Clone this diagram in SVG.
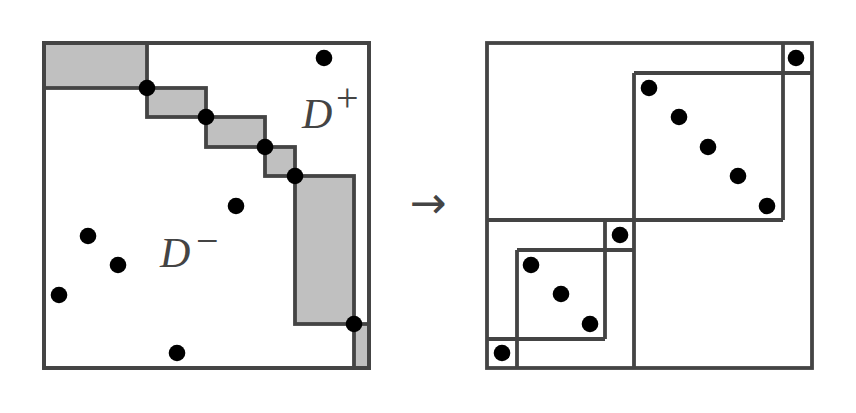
<svg xmlns="http://www.w3.org/2000/svg" width="856" height="413" viewBox="0 0 856 413">
<style>
.frame{fill:#fff;stroke:#444;stroke-width:3.8}
.shade{fill:#c0c0c0;stroke:#444;stroke-width:3.8;stroke-linejoin:miter}
.ln{fill:none;stroke:#444;stroke-width:3.8}
.dot{fill:#000}
.lbl{font-family:"Liberation Serif",serif;font-style:italic;font-size:42px;fill:#444}
.sup{font-family:"Liberation Serif",serif;font-size:40px;fill:#444}
</style>
<rect width="856" height="413" fill="#fff"/>
<g id="left">
<rect class="frame" x="44" y="43" width="325" height="325"/>
<g id="staircase">
<rect class="shade" x="44" y="43" width="103" height="45"/>
<rect class="shade" x="147" y="88" width="59" height="29"/>
<rect class="shade" x="206" y="117" width="59" height="30"/>
<rect class="shade" x="265" y="147" width="30" height="29"/>
<rect class="shade" x="295" y="176" width="59" height="148"/>
<rect class="shade" x="354" y="324" width="15" height="44"/>
</g>
<rect class="ln" x="44" y="43" width="325" height="325"/>
<g id="left-points">
<circle class="dot" cx="147" cy="88" r="8.3"/>
<circle class="dot" cx="206" cy="117" r="8.3"/>
<circle class="dot" cx="265" cy="147" r="8.3"/>
<circle class="dot" cx="295" cy="176" r="8.3"/>
<circle class="dot" cx="354" cy="324" r="8.3"/>
<circle class="dot" cx="324" cy="58" r="8.3"/>
<circle class="dot" cx="236" cy="206" r="8.3"/>
<circle class="dot" cx="88" cy="236" r="8.3"/>
<circle class="dot" cx="118" cy="265" r="8.3"/>
<circle class="dot" cx="59" cy="295" r="8.3"/>
<circle class="dot" cx="177" cy="353" r="8.3"/>
</g>
<g id="label-dplus"><text class="lbl" x="302" y="128">D</text><text class="sup" x="336" y="111">+</text></g>
<g id="label-dminus"><text class="lbl" x="160" y="267">D</text><text class="sup" x="196" y="254">−</text></g>
</g>
<g id="arrow"><text x="428" y="218" text-anchor="middle" style="font-family:'DejaVu Sans',sans-serif;font-size:44px;fill:#444">→</text></g>
<g id="right">
<rect class="frame" x="487" y="43" width="325" height="325"/>
<g id="connectors">
<path class="ln" d="M783 43V220M634 73H812M487 220H783M634 73V368"/>
<path class="ln" d="M605 220V339M517 250H634M487 339H605M517 250V368"/>
</g>
<g id="right-points">
<circle class="dot" cx="796" cy="58" r="8.3"/>
<circle class="dot" cx="649" cy="88" r="8.3"/>
<circle class="dot" cx="679" cy="117" r="8.3"/>
<circle class="dot" cx="708" cy="147" r="8.3"/>
<circle class="dot" cx="738" cy="176" r="8.3"/>
<circle class="dot" cx="767" cy="206" r="8.3"/>
<circle class="dot" cx="620" cy="235" r="8.3"/>
<circle class="dot" cx="531" cy="265" r="8.3"/>
<circle class="dot" cx="561" cy="294" r="8.3"/>
<circle class="dot" cx="590" cy="324" r="8.3"/>
<circle class="dot" cx="502" cy="353" r="8.3"/>
</g>
</g>
</svg>
